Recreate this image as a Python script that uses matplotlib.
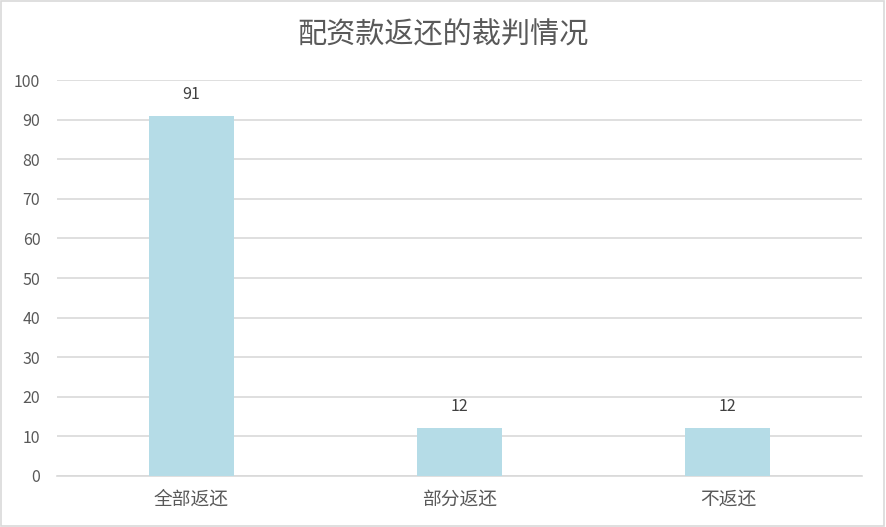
import matplotlib.pyplot as plt
import matplotlib.patches as mpatches

plt.rcParams['font.family'] = ['Noto Sans CJK SC', 'DejaVu Sans']

categories = ["全部返还", "部分返还", "不返还"]
values = [91, 12, 12]
title = "配资款返还的裁判情况"

fig = plt.figure(figsize=(8.86, 5.27), dpi=100)
ax = fig.add_axes([0.0643, 0.0968, 0.9087, 0.7512])

x = range(len(categories))
bars = ax.bar(x, values, width=0.317, color="#B5DCE7", zorder=3)
for xi, v in zip(x, values):
    ax.text(xi, v + 3.3, str(v), ha="center", va="bottom", fontsize=11.5, color="#404040")

ax.set_xlim(-0.5, len(categories) - 0.5)
ax.set_ylim(0, 100)
ax.set_yticks(range(0, 101, 10))
ax.set_xticks(list(x))
ax.set_xticklabels(categories, fontsize=13.5, color="#595959")
ax.tick_params(axis="y", labelsize=11.5, labelcolor="#595959", length=0, pad=12)
ax.tick_params(axis="x", length=0, pad=9)
ax.grid(axis="y", color="#D9D9D9", linewidth=1.2, zorder=0)
for s in ["top", "right", "left"]:
    ax.spines[s].set_visible(False)
ax.spines["bottom"].set_color("#D9D9D9")
ax.spines["bottom"].set_linewidth(1.2)

fig.text(0.5, 0.932, title, ha="center", va="center", fontsize=21, color="#595959")
fig.patches.append(mpatches.Rectangle((0.001, 0.001), 0.997, 0.997, transform=fig.transFigure,
                                      fill=False, edgecolor="#D9D9D9", linewidth=1.2))

fig.savefig("out.png", dpi=100)
